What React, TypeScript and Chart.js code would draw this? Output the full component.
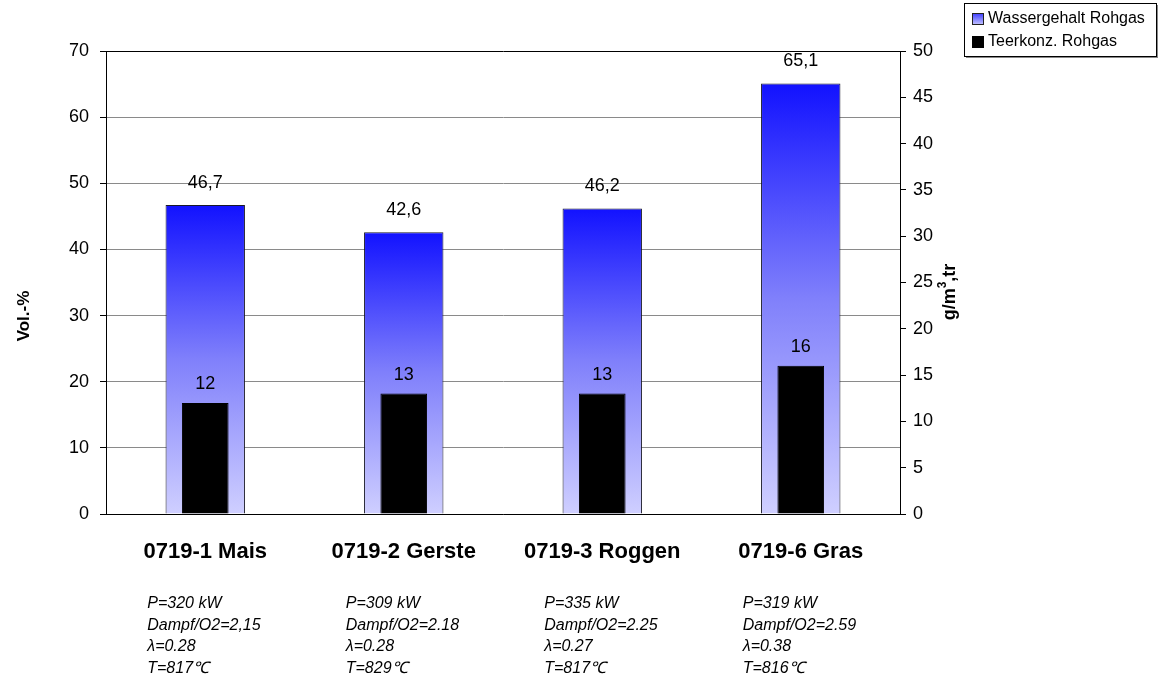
import React, { useEffect, useRef } from 'react';
import { Chart, registerables } from 'chart.js';

Chart.register(...registerables);

// Gasification runs
const categories = ['0719-1 Mais', '0719-2 Gerste', '0719-3 Roggen', '0719-6 Gras'];
// Water content of raw gas, Vol.-% (left axis)
const wassergehalt = [46.7, 42.6, 46.2, 65.1];
// Tar concentration of raw gas, g/m³ tr (right axis)
const teerkonz = [12, 13, 13, 16];
// Operating conditions printed under each run
const runNotes = [
  ['P=320 kW', 'Dampf/O2=2,15', 'λ=0.28', 'T=817℃'],
  ['P=309 kW', 'Dampf/O2=2.18', 'λ=0.28', 'T=829℃'],
  ['P=335 kW', 'Dampf/O2=2.25', 'λ=0.27', 'T=817℃'],
  ['P=319 kW', 'Dampf/O2=2.59', 'λ=0.38', 'T=816℃'],
];
const seriesNames = ['Wassergehalt Rohgas', 'Teerkonz. Rohgas'];
const leftMax = 70;
const leftStep = 10;
const rightMax = 50;
const rightStep = 5;

const FONT = '"Liberation Sans", Arial, sans-serif';

const blueGradient = (ctx: any) => {
  const chart = ctx.chart;
  if (!chart.chartArea || ctx.type !== 'data') return '#6666ff';
  const y = chart.scales.y;
  const top = y.getPixelForValue(ctx.raw);
  const bottom = y.getPixelForValue(0);
  const g = chart.ctx.createLinearGradient(0, top, 0, bottom);
  g.addColorStop(0, '#1212ff');
  g.addColorStop(0.5, '#8080fb');
  g.addColorStop(1, '#cfcfff');
  return g;
};

const decorations = {
  id: 'decorations',
  afterDatasetsDraw(chart: any) {
    const c = chart.ctx;
    c.save();
    c.fillStyle = '#000';
    c.textAlign = 'center';
    c.textBaseline = 'middle';
    c.font = `18px ${FONT}`;
    // value labels above each bar
    chart.getDatasetMeta(0).data.forEach((el: any, i: number) => {
      c.fillText(wassergehalt[i].toFixed(1).replace('.', ','), el.x, el.y - 22);
    });
    chart.getDatasetMeta(1).data.forEach((el: any, i: number) => {
      c.fillText(String(teerkonz[i]), el.x, el.y - 19);
    });
    c.restore();
  },
  afterDraw(chart: any) {
    const c = chart.ctx;
    const x = chart.scales.x;
    c.save();
    c.fillStyle = '#000';

    // run conditions below the category labels
    c.font = `italic 16px ${FONT}`;
    c.textAlign = 'left';
    c.textBaseline = 'middle';
    runNotes.forEach((lines, i) => {
      const cx = x.getPixelForValue(i) - 58;
      lines.forEach((t, j) => c.fillText(t, cx, 604 + j * 21.5));
    });

    // left axis title
    c.font = `bold 17px ${FONT}`;
    c.textAlign = 'center';
    c.save();
    c.translate(24, 316);
    c.rotate(-Math.PI / 2);
    c.fillText('Vol.-%', 0, 0);
    c.restore();

    // right axis title with superscript
    c.save();
    c.translate(950, 292);
    c.rotate(-Math.PI / 2);
    c.textAlign = 'left';
    const p1 = 'g/m';
    const p3 = ',tr';
    c.font = `bold 18px ${FONT}`;
    const w1 = c.measureText(p1).width;
    const w3 = c.measureText(p3).width;
    c.font = `bold 12px ${FONT}`;
    const w2 = c.measureText('3').width;
    const total = w1 + w2 + w3;
    let px = -total / 2;
    c.font = `bold 18px ${FONT}`;
    c.fillText(p1, px, 0);
    px += w1;
    c.font = `bold 12px ${FONT}`;
    c.fillText('3', px, -7);
    px += w2;
    c.font = `bold 18px ${FONT}`;
    c.fillText(p3, px, 0);
    c.restore();

    // legend box
    const lx = 964, ly = 3, lw = 192, lh = 53;
    c.fillStyle = '#888';
    c.fillRect(lx + 2, ly + 2, lw, lh);
    c.fillStyle = '#fff';
    c.fillRect(lx, ly, lw, lh);
    c.strokeStyle = '#000';
    c.lineWidth = 1;
    c.strokeRect(lx + 0.5, ly + 0.5, lw, lh);
    const rows = [19, 42];
    // swatches
    const sg = c.createLinearGradient(0, rows[0] - 6, 0, rows[0] + 6);
    sg.addColorStop(0, '#3a3aff');
    sg.addColorStop(1, '#c8c8ff');
    c.fillStyle = sg;
    c.fillRect(972, rows[0] - 6, 12, 12);
    c.strokeStyle = '#222';
    c.strokeRect(972.5, rows[0] - 5.5, 11, 11);
    c.fillStyle = '#000';
    c.fillRect(972, rows[1] - 6, 12, 12);
    c.font = `16px ${FONT}`;
    c.textAlign = 'left';
    c.textBaseline = 'middle';
    seriesNames.forEach((n, i) => c.fillText(n, 988, rows[i]));
    c.restore();
  },
};

export default function App() {
  const ref = useRef<HTMLCanvasElement>(null);

  useEffect(() => {
    if (!ref.current) return;
    const chart = new Chart(ref.current, {
      type: 'bar',
      data: {
        labels: categories,
        datasets: [
          {
            label: seriesNames[0],
            data: wassergehalt,
            yAxisID: 'y',
            backgroundColor: blueGradient,
            borderColor: '#1a1a2a',
            borderWidth: 1,
            barPercentage: 0.4,
            categoryPercentage: 1,
            grouped: false,
            order: 2,
          },
          {
            label: seriesNames[1],
            data: teerkonz,
            yAxisID: 'y1',
            backgroundColor: '#000',
            borderColor: '#000',
            borderWidth: 1,
            barPercentage: 0.235,
            categoryPercentage: 1,
            grouped: false,
            order: 1,
          },
        ],
      },
      options: {
        responsive: false,
        animation: false,
        layout: { padding: { left: 0, right: 204, top: 51, bottom: 0 } },
        plugins: {
          legend: { display: false },
          tooltip: { enabled: false },
        },
        scales: {
          x: {
            grid: { display: false, drawTicks: false },
            border: { display: true, color: '#000', width: 1 },
            ticks: {
              color: '#000',
              padding: 25,
              font: { family: FONT, size: 22, weight: 'bold' },
              maxRotation: 0,
            },
            afterFit: (s: any) => {
              s.height = 163;
            },
          },
          y: {
            position: 'left',
            min: 0,
            max: leftMax,
            ticks: {
              stepSize: leftStep,
              color: '#000',
              padding: 11,
              font: { family: FONT, size: 18 },
            },
            grid: {
              color: (ctx: any) => (ctx.tick && ctx.tick.value === leftMax ? '#000' : '#8a8a8a'),
              lineWidth: 1,
              tickColor: '#000',
              tickLength: 6,
            },
            border: { display: true, color: '#000', width: 1 },
            afterFit: (s: any) => {
              s.width = 106;
            },
          },
          y1: {
            position: 'right',
            min: 0,
            max: rightMax,
            ticks: {
              stepSize: rightStep,
              color: '#000',
              padding: 7,
              font: { family: FONT, size: 18 },
            },
            grid: {
              drawOnChartArea: false,
              tickColor: '#000',
              tickLength: 6,
            },
            border: { display: true, color: '#000', width: 1 },
            afterFit: (s: any) => {
              s.width = 60;
            },
          },
        },
      },
      plugins: [decorations],
    });
    return () => chart.destroy();
  }, []);

  return (
    <div style={{ position: 'absolute', left: 0, top: 0, width: 1164, height: 677, background: '#fff' }}>
      <canvas ref={ref} width={1164} height={677} />
    </div>
  );
}
